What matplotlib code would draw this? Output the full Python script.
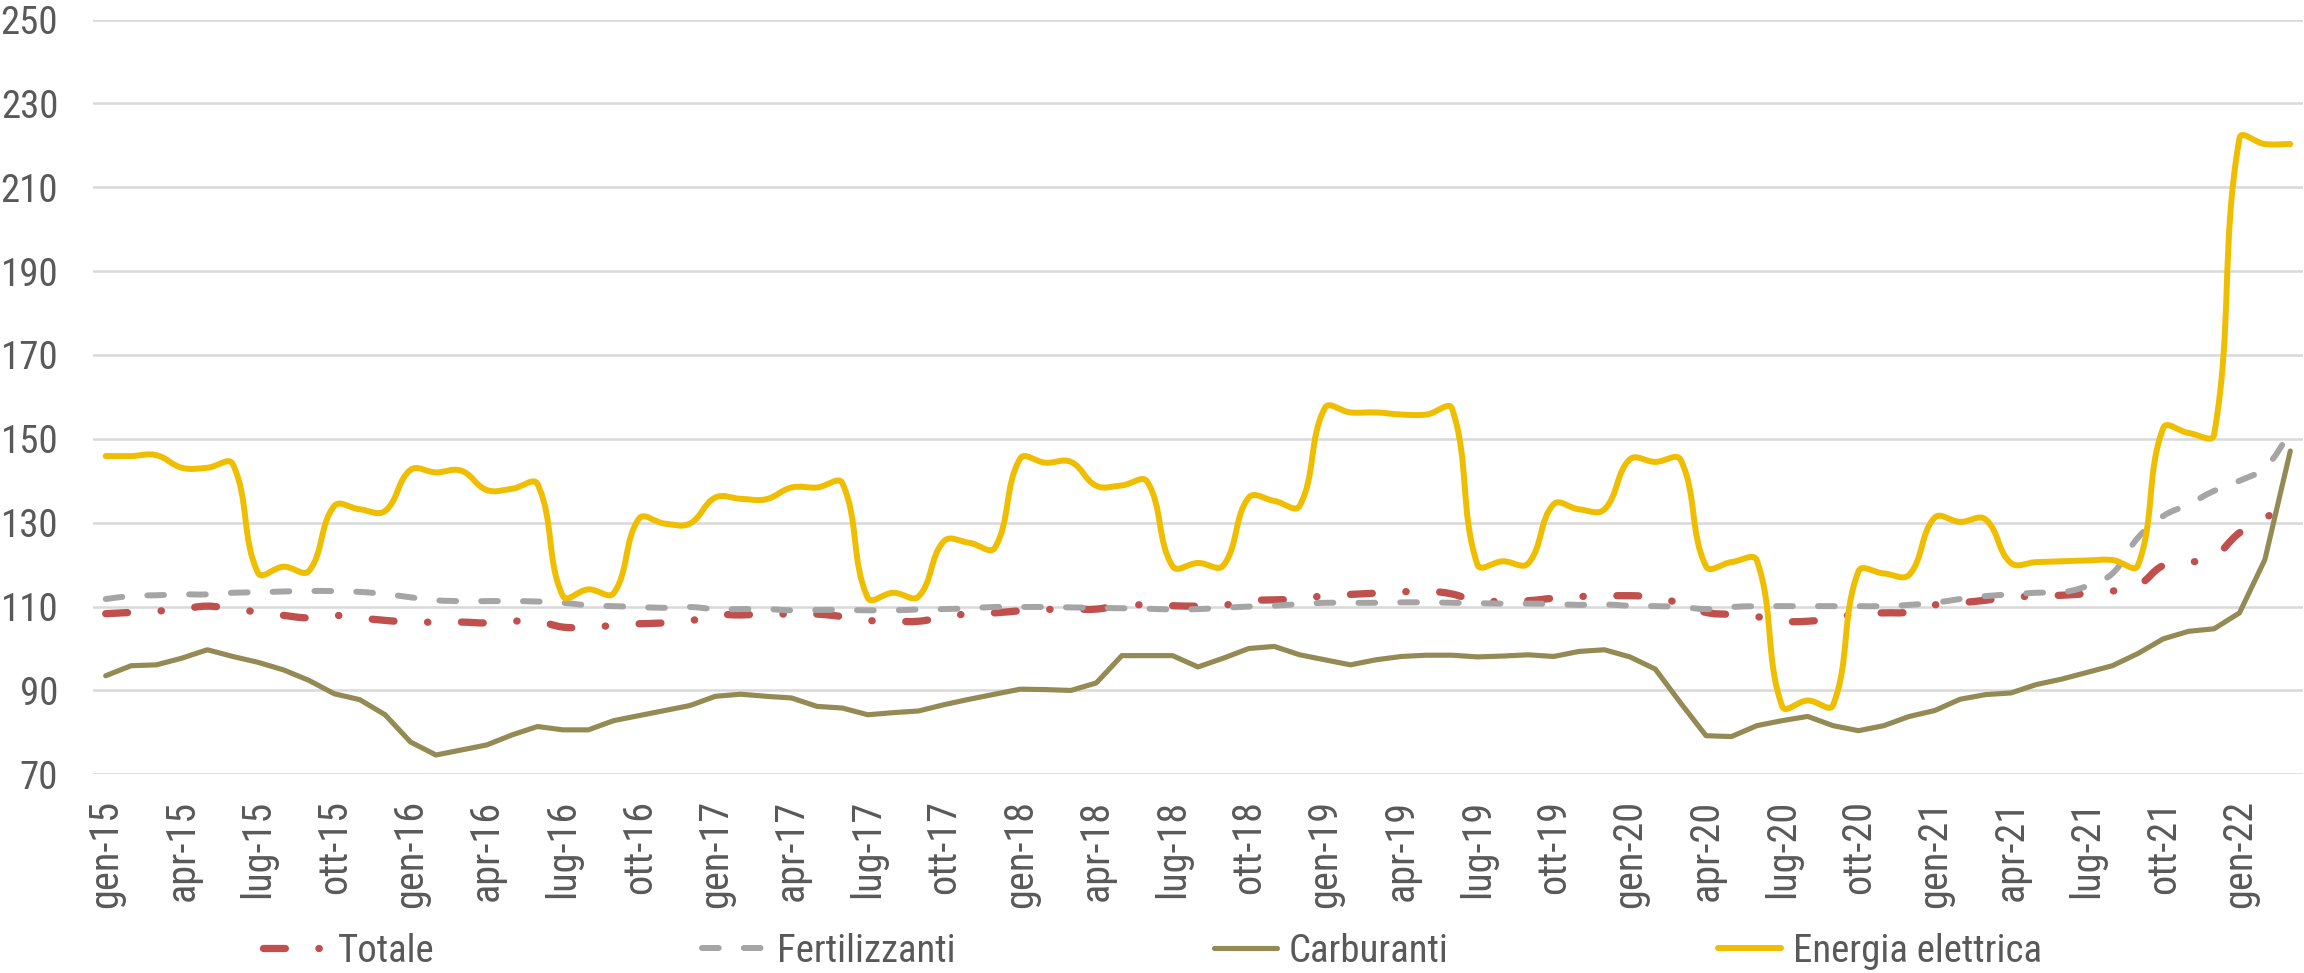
import math
import matplotlib.pyplot as plt
from matplotlib import font_manager as fm
from matplotlib.path import Path
from matplotlib.patches import PathPatch
from matplotlib.lines import Line2D

# etichette asse x (una ogni 3 mesi, da gen-15)
mesi = ['gen-15', 'apr-15', 'lug-15', 'ott-15',
        'gen-16', 'apr-16', 'lug-16', 'ott-16',
        'gen-17', 'apr-17', 'lug-17', 'ott-17',
        'gen-18', 'apr-18', 'lug-18', 'ott-18',
        'gen-19', 'apr-19', 'lug-19', 'ott-19',
        'gen-20', 'apr-20', 'lug-20', 'ott-20',
        'gen-21', 'apr-21', 'lug-21', 'ott-21',
        'gen-22']

# valori mensili gen-15 .. mar-22
totale = [108.3, 108.6, 108.9, 109.4, 110.1, 109.4, 108.7, 107.9, 107.3, 107.9,
          107.3, 106.7, 106.3, 106.3, 106.3, 106.1, 106.5, 106.5, 105.1, 105.1,
          105.5, 105.9, 106.1, 106.6, 108.0, 108.0, 108.2, 108.2, 108.2, 107.6,
          106.7, 106.5, 106.5, 107.5, 108.3, 108.5, 109.0, 109.3, 109.4, 109.4,
          110.3, 110.4, 110.2, 110.1, 110.3, 111.4, 111.6, 111.8, 112.6, 112.9,
          113.2, 113.5, 113.7, 113.0, 111.3, 111.3, 111.4, 112.0, 112.4, 112.5,
          112.6, 112.2, 110.7, 108.6, 108.1, 107.6, 106.5, 106.5, 107.2, 108.3,
          108.5, 108.7, 110.4, 110.9, 111.5, 112.2, 112.5, 112.7, 113.1, 113.7,
          115.0, 119.8, 120.5, 122.0, 127.6, 131.0, 135.5]

fertilizzanti = [111.8, 112.5, 112.7, 112.9, 112.9, 113.3, 113.4, 113.6, 113.7, 113.7,
                 113.5, 113.0, 112.2, 111.5, 111.3, 111.3, 111.3, 111.2, 110.9, 110.3,
                 110.1, 109.9, 109.7, 109.9, 109.4, 109.4, 109.4, 109.1, 109.2, 109.2,
                 109.1, 109.1, 109.3, 109.4, 109.6, 109.9, 109.9, 109.9, 109.8, 109.7,
                 109.6, 109.5, 109.3, 109.4, 109.7, 110.0, 110.2, 110.6, 110.9, 110.9,
                 110.9, 111.0, 111.0, 110.9, 110.8, 110.7, 110.7, 110.6, 110.4, 110.5,
                 110.2, 110.1, 109.9, 109.4, 109.9, 110.1, 110.1, 110.1, 110.1, 110.1,
                 110.1, 110.4, 110.9, 111.8, 112.5, 112.9, 113.3, 113.4, 114.9, 117.9,
                 126.4, 131.6, 134.4, 137.6, 140.0, 143.1, 151.5]

carburanti = [93.5, 95.9, 96.1, 97.7, 99.7, 98.1, 96.7, 94.9, 92.4, 89.2,
              87.8, 84.2, 77.7, 74.6, 75.8, 77.0, 79.4, 81.4, 80.6, 80.6,
              82.8, 84.0, 85.2, 86.4, 88.6, 89.1, 88.6, 88.2, 86.2, 85.8,
              84.2, 84.7, 85.1, 86.6, 87.9, 89.1, 90.3, 90.2, 90.0, 91.8,
              98.3, 98.3, 98.3, 95.6, 97.7, 100.0, 100.5, 98.5, 97.3, 96.1,
              97.3, 98.1, 98.4, 98.4, 98.0, 98.2, 98.5, 98.1, 99.3, 99.7,
              98.0, 95.1, 87.0, 79.2, 79.0, 81.6, 82.8, 83.8, 81.6, 80.4,
              81.6, 83.8, 85.2, 87.9, 89.0, 89.4, 91.4, 92.7, 94.3, 95.9,
              98.8, 102.3, 104.1, 104.7, 108.5, 121.2, 147.1]

energia = [145.9, 145.9, 146.1, 143.1, 143.1, 144.0, 118.0, 119.5, 118.5, 134.0,
           133.2, 132.8, 142.6, 142.0, 142.4, 137.8, 138.1, 139.2, 112.5, 114.1,
           113.2, 131.0, 129.8, 129.8, 136.0, 135.7, 135.6, 138.4, 138.4, 139.4,
           112.1, 113.3, 112.4, 125.6, 125.2, 124.0, 145.3, 144.3, 144.5, 138.8,
           138.9, 139.8, 119.6, 120.4, 119.8, 136.0, 135.2, 134.0, 157.4, 156.3,
           156.3, 155.8, 155.8, 157.2, 120.0, 120.8, 120.3, 134.4, 133.2, 133.2,
           145.1, 144.5, 145.0, 119.6, 120.6, 121.0, 86.2, 87.6, 86.5, 118.4,
           117.9, 117.6, 131.2, 130.2, 130.8, 120.4, 120.6, 120.8, 121.0, 121.1,
           119.8, 152.6, 151.4, 151.0, 221.7, 220.3, 220.3]


def font_stretta():
    prove = [('Liberation Sans Narrow', 'normal'), ('Arial Narrow', 'normal'),
             ('Roboto Condensed', 'normal'), ('Open Sans Condensed', 'normal'),
             ('Noto Sans', 'condensed'), ('Open Sans', 'condensed'),
             ('Roboto', 'condensed'), ('DejaVu Sans', 'condensed')]
    for fam, st in prove:
        try:
            f = fm.findfont(fm.FontProperties(family=fam, stretch=st), fallback_to_default=False)
        except ValueError:
            continue
        if 'narrow' in f.lower() or 'condensed' in f.lower():
            return f
    return None


file_font = font_stretta()


def carattere(size):
    if file_font:
        return fm.FontProperties(fname=file_font, size=size)
    return fm.FontProperties(family='Liberation Sans', size=size * 0.84)


# linea smussata tipo Excel (bezier, tangenti scalate sulla distanza a schermo)
def liscia(ax, y, t=0.4):
    xy = ax.transData.transform(list(zip(range(len(y)), y)))
    n = len(xy)
    verts = [xy[0]]
    codes = [Path.MOVETO]
    for i in range(n - 1):
        p0, p1, p2, p3 = xy[max(i - 1, 0)], xy[i], xy[i + 1], xy[min(i + 2, n - 1)]
        d01 = math.hypot(*(p1 - p0))
        d12 = math.hypot(*(p2 - p1))
        d23 = math.hypot(*(p3 - p2))
        f1 = t * d12 / (d01 + d12) if d01 + d12 > 0 else 0
        f2 = t * d12 / (d12 + d23) if d12 + d23 > 0 else 0
        verts += [p1 + f1 * (p2 - p0), p2 - f2 * (p3 - p1), p2]
        codes += [Path.CURVE4] * 3
    return Path(ax.transData.inverted().transform(verts), codes)


grigio = '#595959'

fig = plt.figure(figsize=(23.04, 9.73), dpi=100)
ax = fig.add_axes([93 / 2304, 1 - 774.3 / 973, 2210 / 2304, 754.8 / 973])
ax.set_xlim(-0.5, len(totale) - 0.5)
ax.set_ylim(70, 250)

stili = [
    ('Totale', totale, '#C0504D', 5.25, (0, (3, 4.6, 0.05, 4.6)), True),
    ('Fertilizzanti', fertilizzanti, '#A5A5A5', 4.3, (0, (2.8, 4.2)), True),
    ('Carburanti', carburanti, '#948A54', 3.7, '-', False),
    ('Energia elettrica', energia, '#F0BE00', 4.3, '-', True),
]

maniglie = []
for nome, valori, colore, lw, ls, smussa in stili:
    if smussa:
        ax.add_patch(PathPatch(liscia(ax, valori), fill=False, edgecolor=colore, lw=lw,
                               linestyle=ls, capstyle='round', joinstyle='round'))
    else:
        ax.plot(range(len(valori)), valori, color=colore, lw=lw, linestyle=ls,
                solid_capstyle='round', solid_joinstyle='round')
    maniglie.append(Line2D([], [], color=colore, lw=lw, linestyle=ls,
                           dash_capstyle='round', solid_capstyle='round', label=nome))

ax.set_yticks(range(70, 251, 20))
ax.set_xticks(range(0, len(totale), 3))
ax.set_xticklabels(mesi, rotation=90, color=grigio, fontproperties=carattere(29))
ax.set_yticklabels([str(v) for v in range(70, 251, 20)], color=grigio,
                   fontproperties=carattere(28))
ax.tick_params(axis='x', length=0, pad=18.5)
ax.tick_params(axis='y', length=0, pad=25)

ax.grid(axis='y', color='#D9D9D9', lw=1.8)
ax.set_axisbelow(True)
for s in ax.spines.values():
    s.set_visible(False)

# legenda: una voce per colonna, come nell'originale
inizio = [263, 702, 1214, 1718]
for h, x0 in zip(maniglie, inizio):
    leg = fig.legend(handles=[h], loc='center left', bbox_to_anchor=(x0 / 2304, 0.0226),
                     frameon=False, prop=carattere(28), borderpad=0, borderaxespad=0,
                     handlelength=1.62, handletextpad=0.31)
    for t in leg.get_texts():
        t.set_color(grigio)

plt.savefig('out.png', dpi=100)
plt.close()
